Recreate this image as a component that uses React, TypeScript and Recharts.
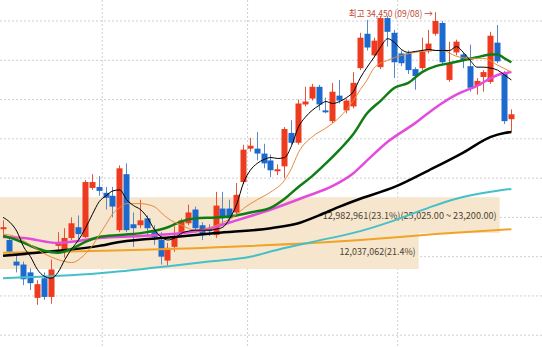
import { ComposedChart, Bar, Line, XAxis, YAxis, CartesianGrid, ReferenceArea, ReferenceDot } from 'recharts'

// daily candles: open, high, low, close
const candles: [number, number, number, number][] = [
  [23400, 23850, 23100, 23500], [22850, 23050, 22050, 22250], [21750, 22050, 21200, 21550],
  [21600, 21750, 20550, 20850], [21200, 21400, 20300, 20650], [19900, 20800, 19550, 20600],
  [20900, 21200, 19800, 19950], [19950, 21850, 19600, 21350], [22550, 23250, 22350, 22700],
  [22250, 23450, 21950, 22950], [22950, 24000, 22850, 23700], [23500, 24100, 22850, 23150],
  [23000, 25900, 22950, 25800], [25500, 26200, 25400, 25800], [25550, 26100, 25100, 25350],
  [25250, 25550, 24400, 25000], [25100, 25550, 24000, 24550], [23350, 26650, 23250, 26500],
  [26200, 26750, 23250, 23350], [23650, 24250, 22500, 23450], [23600, 24900, 23450, 23850],
  [23950, 24100, 23050, 23450], [23250, 23600, 22600, 23000], [22850, 23250, 21600, 22000],
  [21800, 22700, 21550, 22450], [22500, 23550, 22250, 22950], [23200, 23950, 23000, 23850],
  [23700, 24650, 23600, 24250], [24400, 24550, 23250, 23450], [23600, 23750, 22850, 23100],
  [23400, 23650, 23050, 23300], [23100, 25300, 22950, 24600], [24450, 25300, 23600, 23950],
  [24450, 24900, 23750, 23950], [24250, 25750, 24150, 25150], [25800, 27700, 25700, 27450],
  [27500, 28050, 27350, 27650], [27500, 28350, 26900, 27250], [27250, 27750, 26500, 26750],
  [26900, 27200, 26050, 26400], [26350, 26700, 26150, 26450], [26600, 28600, 26000, 28500],
  [28300, 28950, 27700, 27800], [27800, 30000, 27700, 29800], [29750, 30650, 29650, 29900],
  [30050, 30800, 29950, 30650], [30650, 30750, 29450, 29750], [29450, 30100, 29300, 29350],
  [28900, 30850, 28800, 30400], [30200, 31000, 29800, 29950], [29450, 30050, 29300, 29950],
  [29650, 31400, 29550, 30850], [31600, 33400, 31500, 33150], [33350, 34050, 32500, 32650],
  [32250, 33150, 32150, 33000], [31650, 34250, 31550, 34150], [34150, 34250, 32700, 33450],
  [33400, 33550, 31100, 31900], [32350, 32500, 31700, 31850], [32350, 32500, 31300, 31500],
  [31550, 31650, 30500, 31200], [31600, 33150, 31500, 32450], [32450, 33550, 32350, 32850],
  [33350, 34450, 33250, 34000], [33900, 34000, 31800, 31900], [31000, 32950, 30900, 31850],
  [32400, 33050, 32250, 32950], [32300, 32400, 31600, 32000], [31700, 32800, 30400, 30600],
  [30700, 31100, 30250, 30950], [31150, 31500, 30400, 31400], [30900, 33450, 30800, 33250],
  [32900, 33800, 31850, 31950], [31350, 31450, 28750, 28900], [29000, 29500, 28350, 29250],
]

const ma5 = [
  24000, 23750, 23300, 22500, 22000, 21350, 21000, 20900, 21200, 21850,
  22400, 22850, 23450, 24150, 24800, 25100, 25350, 25400, 24900, 24600,
  24400, 24000, 23400, 23000, 22850, 22950, 23200, 23300, 23350, 23350,
  23350, 23400, 23500, 23950, 24650, 25750, 26400, 26750, 26950, 27050,
  27000, 27050, 27650, 28600, 29100, 29450, 29700, 29900, 29800, 29900,
  30100, 30400, 31100, 31650, 32150, 32700, 33100, 32900, 32550, 32400,
  32450, 32500, 32550, 32500, 32500, 32500, 32700, 32400, 32000, 31650,
  31650, 31600, 31500, 31250, 31000,
]

// [candle index, value] readings of the longer averages
const ma10: [number, number][] = [
  [0, 23150], [2, 23000], [4, 22600], [6, 22150], [8, 21850], [10, 21700], [12, 22150],
  [13, 22550], [14, 23100], [15, 23650], [16, 24200], [17, 24500], [18, 24700], [20, 24700],
  [22, 24550], [23, 24250], [24, 23950], [25, 23750], [26, 23600], [28, 23350], [30, 23450],
  [32, 23750], [33, 23900], [34, 24150], [35, 24450], [37, 24900], [39, 25300], [41, 25900],
  [42, 26500], [43, 27300], [45, 28100], [47, 28550], [49, 29100], [51, 29950], [52, 30500],
  [53, 31000], [54, 31600], [56, 32000], [58, 32250], [60, 32400], [62, 32500], [64, 32500],
  [66, 32200], [68, 32100], [70, 32100], [72, 31750], [74, 31400],
]
const ma20: [number, number][] = [
  [0, 23050], [2, 22850], [4, 22550], [6, 22300], [8, 22200], [10, 22400], [12, 22750],
  [14, 23000], [17, 23100], [21, 23250], [24, 23500], [26, 23800], [28, 23950], [31, 24000],
  [34, 24100], [36, 24250], [39, 24500], [41, 24950], [43, 25550], [45, 26100], [47, 26750],
  [49, 27450], [51, 28250], [53, 29300], [55, 29950], [57, 30600], [59, 30850], [61, 31400],
  [63, 31700], [65, 31850], [67, 32000], [69, 32150], [71, 32300], [72, 32300], [73, 32100],
  [74, 31900],
]
const ma60: [number, number][] = [
  [0, 23000], [3, 22950], [8, 22700], [11, 22800], [14, 22950], [20, 23050], [26, 23200],
  [29, 23350], [34, 23850], [39, 24400], [44, 25050], [48, 25600], [51, 26250], [53, 26900],
  [56, 27850], [60, 28800], [63, 29600], [66, 30250], [69, 30700], [72, 31250], [74, 31400],
]
const ma120: [number, number][] = [
  [0, 22050], [8, 22300], [14, 22550], [17, 22750], [25, 23000], [31, 23200], [39, 23450],
  [43, 23700], [46, 24100], [49, 24550], [52, 24950], [57, 25550], [62, 26400], [67, 27300],
  [71, 28100], [73, 28300], [74, 28350],
]
const ma240: [number, number][] = [
  [0, 20900], [14, 21150], [25, 21550], [30, 21750], [36, 22000], [40, 22350], [45, 22750],
  [52, 23300], [57, 23850], [62, 24500], [66, 24950], [71, 25300], [74, 25450],
]
const ma480: [number, number][] = [[0, 22200], [25, 22400], [52, 22850], [63, 23150], [74, 23400]]

// volume profile bands
const bands = [
  { volume: 12982961, pct: 23.1, high: 25025, low: 23200, showRange: true },
  { volume: 12037062, pct: 21.4, high: 23200, low: 21375, showRange: false },
]
const peak = { index: 63, price: 34450, date: '09/08' }

const RED = '#ee3b1f'
const BLUE = '#1d6ace'
const X_DOMAIN: [number, number] = [-0.44, 78.46]
const Y_DOMAIN: [number, number] = [17400, 35070]
const GRID_X = [14.45, 35.6, 57.45]
const GRID_Y = [18000, 20000, 22000, 24000, 26000, 28000, 30000, 32000, 34000]
const BAND_END = [72.3, 60.5]
const BAND_TEXT_W = [174, 76]
const FONT = "'Noto Sans CJK KR', 'Liberation Sans', sans-serif"

const lookup = (pts: [number, number][]) => {
  const m = new Map(pts)
  return (i: number) => m.get(i) ?? null
}
const l10 = lookup(ma10), l20 = lookup(ma20), l60 = lookup(ma60)
const l120 = lookup(ma120), l240 = lookup(ma240), l480 = lookup(ma480)

const data = candles.map(([open, high, low, close], i) => ({
  i, open, high, low, close, range: [low, high],
  ma5: ma5[i], ma10: l10(i), ma20: l20(i), ma60: l60(i), ma120: l120(i), ma240: l240(i), ma480: l480(i),
}))

const fmt = (n: number, d = 0) => n.toLocaleString('en-US', { minimumFractionDigits: d, maximumFractionDigits: d })

function Candle(props: any) {
  const { x, y, width, height, payload } = props
  if (x == null || !payload) return null
  const { open, close, high, low } = payload
  const top = Math.min(y, y + height)
  const k = Math.abs(height) / (high - low)
  const yOf = (v: number) => top + (high - v) * k
  const up = close >= open
  const cx = Math.round(x + width / 2) + 0.5
  const bTop = yOf(Math.max(open, close))
  const bBot = yOf(Math.min(open, close))
  return (
    <g>
      <line x1={cx} x2={cx} y1={top} y2={top + Math.abs(height)} stroke={up ? '#e4563a' : '#5d88c6'} strokeWidth={1} />
      <rect x={cx - 3} y={bTop} width={6} height={Math.max(1.5, bBot - bTop)} fill={up ? RED : BLUE} />
    </g>
  )
}

function bandShape(idx: number) {
  const b = bands[idx]
  const text = `${fmt(b.volume)}(${b.pct}%)` + (b.showRange ? `(${fmt(b.high, 2)} ~ ${fmt(b.low, 2)})` : '')
  return (p: any) => (
    <g>
      <rect x={p.x} y={p.y} width={p.width} height={p.height} fill="#f5e6cd" />
      <text x={p.x + p.width - 3} y={p.y + p.height / 2 + 3.5} textAnchor="end" fontSize={9.5} fill="#4d4233"
        fontFamily={FONT} textLength={BAND_TEXT_W[idx]} lengthAdjust="spacingAndGlyphs">{text}</text>
    </g>
  )
}

function PeakLabel(p: any) {
  return (
    <text x={p.cx - 3} y={p.cy + 5} textAnchor="end" fontSize={9.5} fill="#c04a33" fontFamily={FONT}
      textLength={84} lengthAdjust="spacingAndGlyphs">
      {`최고 ${fmt(peak.price)} (${peak.date}) →`}
    </text>
  )
}

const lines = [
  { key: 'ma480', color: '#f0a326', w: 2 },
  { key: 'ma240', color: '#45bfc8', w: 2 },
  { key: 'ma120', color: '#000000', w: 2.5 },
  { key: 'ma60', color: '#e34bdc', w: 2.5 },
  { key: 'ma20', color: '#0f7d14', w: 2.5 },
  { key: 'ma10', color: '#e8893a', w: 1 },
  { key: 'ma5', color: '#000000', w: 1 },
]

export default function App() {
  return (
    <div style={{ position: 'absolute', left: 0, top: 0, width: 542, height: 347, background: '#fff' }}>
      <ComposedChart width={542} height={347} data={data} margin={{ top: 0, right: 0, bottom: 0, left: 0 }}>
        <CartesianGrid stroke="#cfcfcf" strokeDasharray="2 2" horizontalValues={GRID_Y} verticalValues={GRID_X} />
        <XAxis type="number" dataKey="i" domain={X_DOMAIN} allowDataOverflow ticks={GRID_X} hide />
        <YAxis type="number" domain={Y_DOMAIN} allowDataOverflow ticks={GRID_Y} hide />
        {bands.map((b, idx) => (
          <ReferenceArea key={idx} x1={X_DOMAIN[0]} x2={BAND_END[idx]} y1={b.low} y2={b.high}
            ifOverflow="hidden" shape={bandShape(idx)} />
        ))}
        {lines.map(l => (
          <Line key={l.key} dataKey={l.key} stroke={l.color} strokeWidth={l.w} dot={false} activeDot={false}
            type="monotone" connectNulls isAnimationActive={false} />
        ))}
        <Bar dataKey="range" barSize={6} shape={<Candle />} isAnimationActive={false} />
        <ReferenceDot x={peak.index} y={peak.price} r={0} ifOverflow="visible" shape={<PeakLabel />} />
      </ComposedChart>
    </div>
  )
}
